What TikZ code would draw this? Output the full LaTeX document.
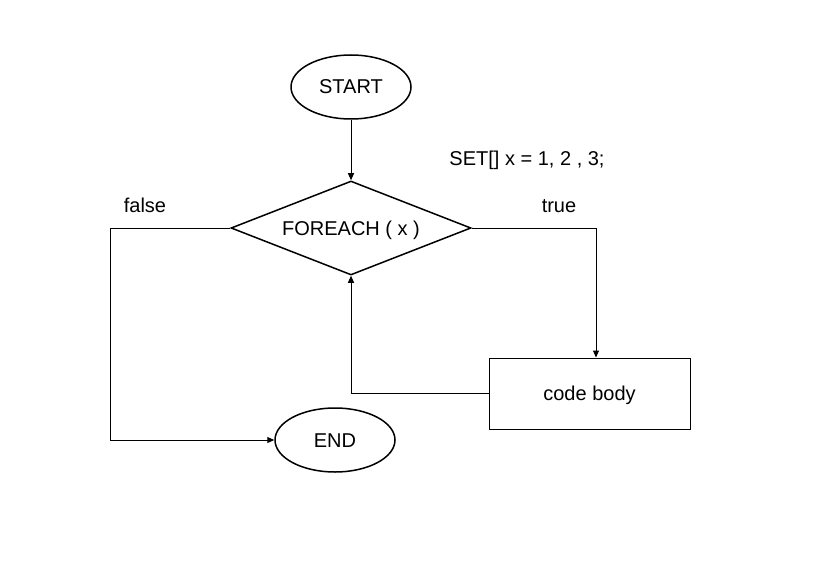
\documentclass[tikz,border=0pt]{standalone}
\usepackage{fontspec}
\setmainfont{Liberation Sans}
\usetikzlibrary{shapes.geometric,arrows.meta}

\tikzset{
	terminal/.style={ellipse, draw, line width=1.5pt, minimum width=120pt, minimum height=64pt, inner sep=0pt},
	decision/.style={diamond, draw, line width=1.5pt, minimum width=240pt, minimum height=94pt, inner sep=0pt, aspect=2.55},
	process/.style={rectangle, draw, line width=1pt, minimum width=201pt, minimum height=71pt, inner sep=0pt},
	flow/.style={draw, line width=1pt, -{Triangle[length=7pt,width=6pt]}}
}

\begin{document}
\begin{tikzpicture}[x=1pt, y=-1pt, font=\fontsize{20}{24}\selectfont, text height=14pt, text depth=0pt]
				\useasboundingbox (0,0) rectangle (827,583);
				% shapes
				\node[terminal] (start) at (351,87) {START};
				\node[decision] (loop) at (351,228) {FOREACH ( x )};
				\node[process] (body) at (589.5,393.5) {code body};
				\node[terminal] (end) at (335,440) {END};
				% labels
				\node (set) at (527,158) {SET[] x = 1, 2 , 3;};
				\node (falselabel) at (145,205) {false};
				\node (truelabel) at (559,205) {true};
				% connectors
				\coordinate (falsecorner) at (110,228);
				\draw[flow] (start) -- (loop);
				\draw[flow] (loop.east) -| ([xshift=6.5pt]body.north);
				\draw[flow] (body.west) -| (loop.south);
				\draw[flow] (loop.west) -- (falsecorner) |- (end.west);
			\end{tikzpicture}
\end{document}
